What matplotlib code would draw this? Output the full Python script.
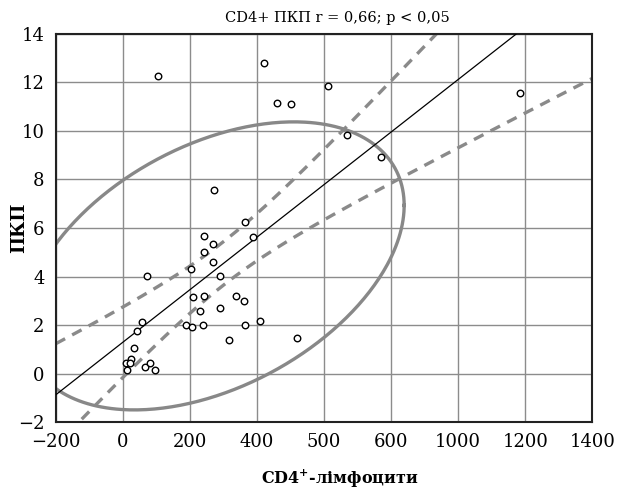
import matplotlib
matplotlib.use("Agg")
import matplotlib.pyplot as plt
import numpy as np

plt.rcParams['font.family'] = ['DejaVu Serif']
plt.rcParams['mathtext.fontset'] = 'dejavuserif'

# точки (вісь X лінійна за позицією поділок)
cd4 = [364, 242, 387, 269, 242, 269, 203, 73, 290, 210, 242, 338, 361, 290, 230,
       56, 41, 189, 206, 238, 364, 408, 316, 519, 33, 25, 10, 22, 12, 67, 81, 97,
       104, 421, 461, 501, 613, 1185, 668, 770, 273]
pkp = [6.25, 5.66, 5.63, 5.33, 5.01, 4.60, 4.33, 4.02, 4.02, 3.15, 3.20, 3.20, 2.98, 2.69, 2.60,
       2.13, 1.76, 1.99, 1.91, 2.01, 2.01, 2.17, 1.40, 1.47, 1.07, 0.62, 0.44, 0.44, 0.17, 0.29, 0.44, 0.17,
       12.26, 12.78, 11.13, 11.09, 11.85, 11.56, 9.83, 8.94, 7.58]

# регресія та довірчі межі
intercept = 1.294
slope = 0.01082
band_x0 = 300
band_a = 0.8
band_b = 1.45e-5

# еліпс
ell_cx, ell_cy = 272.5, 4.44
ell_rx, ell_ry = 566.5, 5.93
ell_rho = 0.42

xticks = [-200, 0, 200, 400, 600, 800, 1000, 1200, 1400]
xticklabels = ['\u2212200', '0', '200', '400', '500', '600', '1000', '1200', '1400']
yticks = [-2, 0, 2, 4, 6, 8, 10, 12, 14]
yticklabels = ['\u22122', '0', '2', '4', '6', '8', '10', '12', '14']

fig = plt.figure(figsize=(6.17, 4.95), dpi=100)
ax = fig.add_axes([55.7/617, 1 - 422.3/495, (592.3-55.7)/617, (422.3-33.7)/495])

xs = np.linspace(-200, 1400, 400)
yhat = intercept + slope * xs
half = np.sqrt(band_a + band_b * (xs - band_x0) ** 2)

ax.plot(xs, yhat, color='black', lw=0.9, zorder=3)
ax.plot(xs, yhat + half, color='#8a8a8a', lw=2.4, ls=(0, (3.2, 2.4)), zorder=2)
ax.plot(xs, yhat - half, color='#8a8a8a', lw=2.4, ls=(0, (3.2, 2.4)), zorder=2)

t = np.linspace(0, 2*np.pi, 400)
phi = np.arccos(ell_rho)
ax.plot(ell_cx + ell_rx*np.cos(t), ell_cy + ell_ry*np.cos(t - phi),
        color='#888888', lw=2.4, zorder=2)

ax.scatter(cd4, pkp, s=22, facecolors='white', edgecolors='black', linewidths=1.0, zorder=4)

ax.set_xlim(-200, 1400)
ax.set_ylim(-2, 14)
ax.set_xticks(xticks)
ax.set_xticklabels(xticklabels)
ax.set_yticks(yticks)
ax.set_yticklabels(yticklabels)
ax.tick_params(length=0, labelsize=13, pad=8)
ax.grid(True, color='#8c8c8c', lw=1.0)
ax.set_axisbelow(True)
for s in ax.spines.values():
    s.set_linewidth(1.5)
    s.set_color('#222222')

ax.text(0.525, 1.022, 'CD4+ ПКП r = 0,66; p < 0,05', transform=ax.transAxes,
        ha='center', va='bottom', fontsize=10.5)
ax.set_ylabel('ПКП', fontsize=13, fontweight='bold')
ax.yaxis.set_label_coords(-0.052, 0.5)
ax.set_xlabel(r'CD4$^{\mathbf{+}}$-лімфоцити', fontsize=11.5, fontweight='bold')
ax.xaxis.set_label_coords(0.53, -0.115)

fig.savefig('out.png', dpi=100, facecolor='white')
